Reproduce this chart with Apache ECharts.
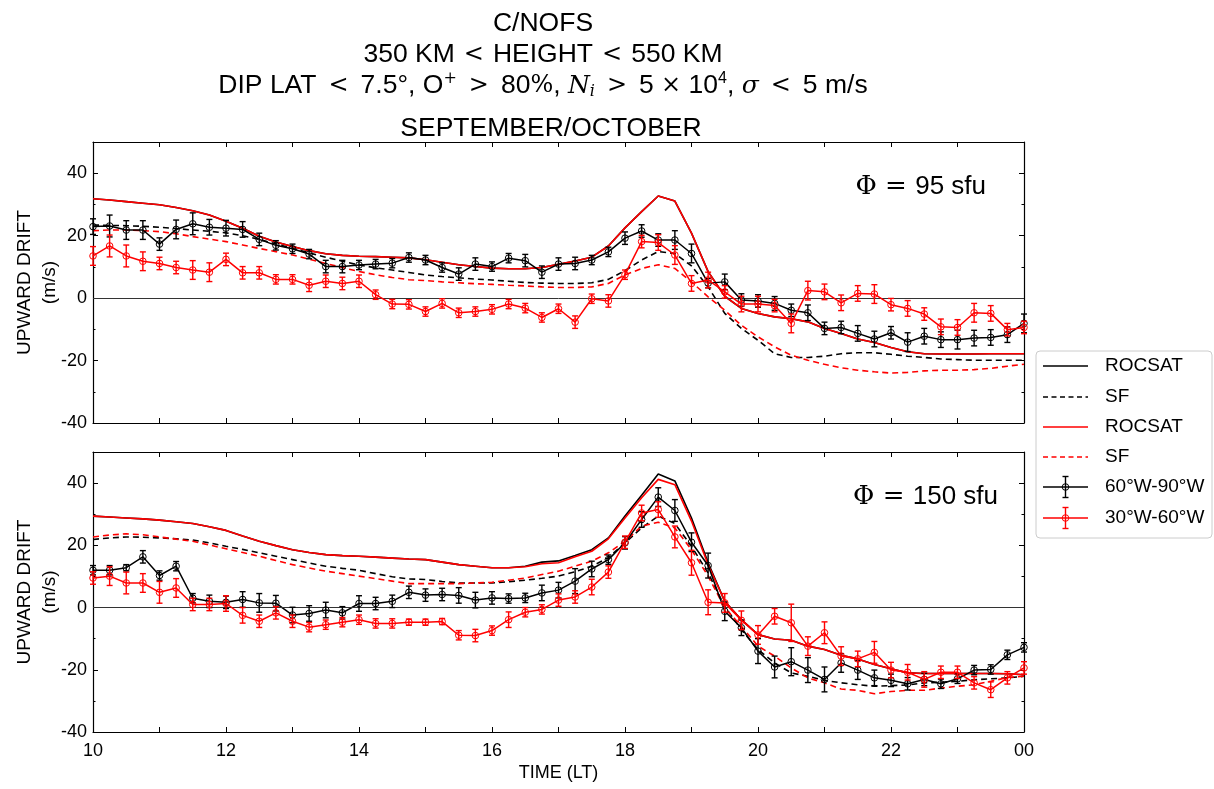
<!DOCTYPE html>
<html>
<head>
<meta charset="utf-8">
<script src="https://cdn.jsdelivr.net/npm/echarts@6/dist/echarts.min.js"></script>
<style>
  html, body { margin: 0; padding: 0; background: #fff; }
  #chart { width: 1214px; height: 789px; }
</style>
</head>
<body>
<div id="chart"></div>
<script>
// Local time of each 15-minute bin (24 = midnight)
const HOURS = [10, 10.25, 10.5, 10.75, 11, 11.25, 11.5, 11.75, 12, 12.25, 12.5, 12.75,
  13, 13.25, 13.5, 13.75, 14, 14.25, 14.5, 14.75, 15, 15.25, 15.5, 15.75,
  16, 16.25, 16.5, 16.75, 17, 17.25, 17.5, 17.75, 18, 18.25, 18.5, 18.75,
  19, 19.25, 19.5, 19.75, 20, 20.25, 20.5, 20.75, 21, 21.25, 21.5, 21.75,
  22, 22.25, 22.5, 22.75, 23, 23.25, 23.5, 23.75, 24];

const X_TICK_LABELS = [10, 12, 14, 16, 18, 20, 22, 24];
const Y_TICKS = [-40, -20, 0, 20, 40];
const Y_MINOR_TICKS = [-30, -10, 10, 30];

// ---- Phi = 95 sfu ----
const LOW_ROCSAT_A = [31.8, 31.4, 30.9, 30.4, 29.9, 29.0, 28.0, 26.6, 24.6, 22.4, 19.8, 18.0,
  16.5, 15.2, 14.2, 13.7, 13.4, 13.3, 13.1, 12.9, 12.3, 11.5, 10.7, 10.1,
  9.6, 9.4, 9.4, 9.8, 10.8, 11.9, 13.1, 16.7, 22.5, 27.7, 32.7, 31.1,
  20.8, 8.5, 0.6, -3.3, -4.9, -6.0, -6.6, -7.6, -9.7, -11.3, -13.1, -14.2,
  -15.8, -17.2, -17.8, -17.9, -17.9, -17.9, -17.8, -17.8, -17.8];
const LOW_ROCSAT_B = [31.8, 31.4, 30.9, 30.4, 29.9, 29.0, 28.0, 26.6, 24.6, 22.4, 19.8, 18.0,
  16.5, 15.2, 14.2, 13.7, 13.4, 13.3, 13.1, 12.9, 12.3, 11.5, 10.7, 10.1,
  9.6, 9.4, 9.4, 9.8, 10.8, 11.9, 13.1, 16.7, 22.5, 27.7, 32.7, 31.1,
  20.8, 8.5, 0.6, -3.3, -4.9, -6.0, -6.6, -7.6, -9.7, -11.3, -13.1, -14.2,
  -15.8, -17.2, -17.8, -17.9, -17.9, -17.9, -17.8, -17.8, -17.8];
const LOW_SF_A = [23.4, 23.3, 23.2, 23.0, 22.7, 22.3, 21.8, 21.4, 20.9, 20.0, 18.8, 17.4,
  15.9, 14.5, 13.1, 11.8, 10.6, 9.7, 9.0, 8.2, 7.4, 6.9, 6.5, 6.1,
  5.8, 5.4, 5.0, 4.8, 4.7, 4.7, 4.9, 6.0, 8.8, 12.2, 14.9, 14.3,
  10.3, 3.6, -4.9, -9.7, -13.5, -17.8, -19.0, -19.0, -18.6, -17.8, -17.5, -17.5,
  -18.0, -18.6, -19.0, -19.5, -19.7, -19.9, -19.9, -19.9, -19.9];
const LOW_SF_B = [21.6, 21.8, 21.8, 21.6, 21.3, 20.6, 19.7, 18.9, 18.1, 17.0, 15.9, 14.9,
  13.8, 12.5, 11.1, 9.8, 8.5, 7.5, 6.6, 5.9, 5.6, 5.2, 4.9, 4.6,
  4.4, 4.1, 3.9, 3.6, 3.4, 3.4, 3.6, 4.7, 7.4, 9.5, 10.7, 9.5,
  5.2, 0.4, -3.9, -8.7, -12.4, -15.6, -18.3, -19.9, -21.2, -22.3, -23.1, -23.6,
  -24.0, -23.8, -23.3, -23.1, -23.1, -22.9, -22.5, -21.8, -21.2];
const LOW_OBS_A = [22.9, 23.1, 21.8, 21.8, 17.3, 22.0, 23.8, 22.7, 22.4, 22.0, 18.8, 16.9,
  15.8, 14.1, 10.1, 10.1, 10.6, 10.9, 11.2, 13.0, 12.2, 9.8, 7.7, 10.9,
  10.1, 12.8, 12.0, 8.3, 10.9, 11.1, 12.2, 14.8, 19.2, 21.5, 18.6, 18.6,
  14.3, 4.8, 5.2, -0.6, -0.9, -1.7, -3.9, -4.7, -9.7, -9.4, -11.3, -13.1,
  -11.1, -14.1, -12.2, -13.3, -13.3, -12.8, -12.6, -11.7, -8.1];
const LOW_ERR_A = [2.5, 3.5, 3, 3, 2, 3, 3.5, 2.5, 2.5, 2.5, 2, 1.5,
  1.5, 1.5, 2, 2, 1.5, 1.5, 1.5, 1.5, 1.5, 1.5, 2, 2,
  1.5, 1.5, 2, 2, 2, 2, 1.5, 1.5, 2, 2, 2, 3,
  3, 1.5, 2.5, 2, 2, 2.2, 2, 2.5, 2, 2, 2.5, 2.5,
  2, 3, 2.5, 2.5, 3, 2.5, 2.5, 2.5, 3];
const LOW_OBS_B = [13.5, 16.7, 13.5, 11.8, 11.1, 9.8, 9.0, 8.3, 12.4, 8.1, 8.1, 6.0,
  6.0, 4.1, 5.4, 4.7, 5.4, 1.1, -1.9, -2.0, -4.3, -1.7, -4.7, -4.3,
  -3.6, -1.9, -3.2, -6.2, -3.4, -7.7, -0.2, -0.9, 7.5, 18.1, 17.8, 13.8,
  4.7, 5.8, 2.0, -1.9, -1.9, -2.4, -8.1, 2.4, 2.0, -1.5, 1.5, 1.3,
  -2.1, -3.3, -5.1, -9.2, -9.4, -4.7, -4.9, -10.1, -9.4];
const LOW_ERR_B = [3, 3.5, 3.5, 3, 2, 2, 3, 3, 2, 2, 2, 1.5,
  1.5, 2, 2, 2, 2, 1.5, 1.5, 1.5, 1.5, 1.5, 1.5, 1.5,
  1.5, 1.5, 1.5, 1.5, 1.5, 2, 1.5, 2, 1.5, 2, 2.5, 3,
  2.5, 2.5, 2, 2.5, 2.5, 2, 3, 3, 2.5, 2.5, 2.5, 3,
  2, 2.5, 2, 2.5, 2.5, 3, 2.5, 2, 2];

// ---- Phi = 150 sfu ----
const HIGH_ROCSAT_A = [29.4, 29.1, 28.8, 28.5, 28.1, 27.6, 27.0, 26.0, 24.8, 23.0, 21.3, 19.9,
  18.6, 17.7, 17.0, 16.7, 16.5, 16.2, 15.9, 15.6, 15.4, 14.6, 13.8, 13.3,
  12.8, 12.8, 13.3, 14.6, 15.0, 16.7, 18.6, 22.4, 29.4, 36.1, 42.9, 40.7,
  28.8, 14.4, 2.0, -3.9, -8.7, -10.1, -10.5, -12.4, -13.5, -15.3, -16.5, -18.3,
  -19.7, -21.0, -21.2, -21.2, -21.2, -21.2, -21.2, -21.3, -21.6];
const HIGH_ROCSAT_B = [29.4, 29.1, 28.8, 28.5, 28.1, 27.6, 27.0, 26.0, 24.8, 23.0, 21.3, 19.9,
  18.6, 17.7, 17.0, 16.7, 16.5, 16.2, 15.9, 15.6, 15.4, 14.6, 13.8, 13.3,
  12.8, 12.8, 13.1, 14.1, 14.4, 16.3, 18.1, 22.1, 28.8, 35.3, 41.2, 39.5,
  27.8, 13.8, 2.0, -3.9, -8.7, -10.1, -10.5, -12.4, -13.5, -15.3, -16.5, -18.3,
  -19.7, -21.0, -21.2, -21.2, -21.2, -21.2, -21.2, -21.3, -21.6];
const HIGH_SF_A = [21.9, 22.4, 22.7, 22.6, 22.4, 22.1, 21.7, 20.8, 19.7, 18.7, 17.6, 16.5,
  15.4, 14.3, 13.3, 12.6, 12.0, 10.9, 9.9, 9.2, 9.0, 8.4, 7.9, 7.9,
  7.9, 8.3, 8.8, 9.4, 10.1, 11.5, 13.3, 16.0, 20.8, 25.6, 29.4, 27.0,
  19.7, 11.1, 0.4, -7.1, -13.5, -17.8, -21.0, -22.1, -23.4, -24.2, -24.8, -25.3,
  -25.1, -24.9, -24.2, -24.0, -23.7, -23.2, -22.9, -22.6, -22.1];
const HIGH_SF_B = [22.7, 23.3, 23.7, 23.4, 22.7, 22.0, 21.3, 20.1, 18.9, 17.7, 16.5, 15.1,
  13.8, 12.7, 11.7, 10.9, 10.1, 9.3, 8.5, 7.7, 7.7, 7.7, 7.7, 7.9,
  8.1, 8.8, 9.5, 10.6, 11.7, 13.3, 14.9, 17.6, 21.3, 26.2, 27.4, 25.6,
  18.6, 10.1, -0.1, -6.0, -12.4, -15.6, -19.4, -22.6, -24.2, -26.2, -26.6, -27.7,
  -27.0, -26.6, -26.6, -25.9, -25.3, -24.8, -23.7, -22.5, -22.1];
const HIGH_OBS_A = [12.0, 12.0, 12.8, 16.3, 10.3, 13.3, 3.0, 2.0, 1.7, 2.6, 1.5, 1.4,
  -2.4, -1.9, -0.8, -1.7, 1.3, 1.3, 2.0, 4.9, 4.0, 4.2, 3.9, 2.4,
  3.1, 2.9, 3.1, 4.7, 5.6, 8.5, 12.4, 15.4, 20.8, 28.3, 35.5, 31.2,
  21.0, 13.5, -1.2, -6.5, -14.0, -19.1, -17.4, -20.1, -23.1, -17.8, -20.1, -22.6,
  -23.4, -24.5, -23.1, -24.5, -22.9, -20.1, -19.9, -15.2, -12.8];
const HIGH_ERR_A = [1.5, 1.5, 1, 2, 1.5, 1.5, 1.5, 2, 2, 2.5, 3, 2.5,
  2.5, 2.5, 2.5, 2, 2.5, 2, 2, 2, 2, 2, 2.5, 2.5,
  2, 1.5, 1.5, 2.5, 2.5, 4, 2.5, 1.5, 2, 2.5, 3, 3.5,
  3, 4, 3, 2.5, 4, 3.5, 4.5, 4, 4, 3, 3, 2.5,
  2, 2, 2, 1.5, 1.5, 1.5, 1.5, 1.5, 1.5];
const HIGH_OBS_B = [9.5, 10.1, 7.9, 7.9, 4.9, 6.3, 1.0, 1.0, 1.3, -2.5, -4.4, -1.7,
  -4.4, -6.3, -5.5, -4.7, -3.9, -5.1, -5.1, -4.7, -4.7, -4.5, -8.9, -9.0,
  -7.4, -3.9, -1.5, -0.6, 2.4, 3.4, 6.6, 11.4, 21.0, 30.4, 31.5, 22.7,
  14.4, 1.7, 1.5, -4.1, -8.8, -2.8, -4.9, -12.4, -8.1, -15.6, -16.5, -14.4,
  -20.1, -20.8, -23.1, -20.8, -20.8, -24.2, -26.4, -22.6, -19.4];
const HIGH_ERR_B = [2, 3, 3.5, 3, 3.5, 3, 2, 2, 2.5, 2.5, 2, 2,
  2, 1.5, 1.5, 1.5, 1.5, 1.5, 1.5, 1, 1, 1, 1.5, 2,
  1.5, 2.5, 1.5, 1.5, 2, 2, 2.5, 2, 2, 2.5, 2.5, 3.5,
  4, 4, 3, 3, 3, 2.5, 6, 3, 3.5, 3, 2.5, 3.5,
  2.5, 2.5, 2.5, 2, 2, 2, 2.5, 2, 2];

const BLACK = '#000000';
const RED = '#ff0000';
const SANS = 'Liberation Sans, Arial, sans-serif';
const SERIF = 'DejaVu Serif, Liberation Serif, serif';

const GRID_LEFT = 93, GRID_RIGHT = 190;
const panels = [
  { top: 142, height: 281, flux: '95', rocA: LOW_ROCSAT_A, rocB: LOW_ROCSAT_B, sfA: LOW_SF_A, sfB: LOW_SF_B,
    obsA: LOW_OBS_A, errA: LOW_ERR_A, obsB: LOW_OBS_B, errB: LOW_ERR_B },
  { top: 452, height: 280, flux: '150', rocA: HIGH_ROCSAT_A, rocB: HIGH_ROCSAT_B, sfA: HIGH_SF_A, sfB: HIGH_SF_B,
    obsA: HIGH_OBS_A, errA: HIGH_ERR_A, obsB: HIGH_OBS_B, errB: HIGH_ERR_B }
];

const pairs = vals => HOURS.map((h, i) => [h, vals[i]]);
const triples = (vals, errs) => HOURS.map((h, i) => [h, vals[i], errs[i]]);

// Error bar with caps and an open circle marker
function errorBarRenderer(color) {
  return function (params, api) {
    const x = api.value(0), y = api.value(1), e = api.value(2);
    const c = api.coord([x, y]);
    const hi = api.coord([x, y + e]);
    const lo = api.coord([x, y - e]);
    const cap = 3;
    const st = { stroke: color, lineWidth: 1.4, fill: null };
    return {
      type: 'group',
      children: [
        { type: 'line', shape: { x1: hi[0], y1: hi[1], x2: lo[0], y2: lo[1] }, style: st },
        { type: 'line', shape: { x1: hi[0] - cap, y1: hi[1], x2: hi[0] + cap, y2: hi[1] }, style: st },
        { type: 'line', shape: { x1: lo[0] - cap, y1: lo[1], x2: lo[0] + cap, y2: lo[1] }, style: st },
        { type: 'circle', shape: { cx: c[0], cy: c[1], r: 3.3 }, style: { stroke: color, lineWidth: 1, fill: null } }
      ]
    };
  };
}

const grids = [], xAxes = [], yAxes = [], series = [];

panels.forEach((p, gi) => {
  const isBottom = gi === 1;
  grids.push({ left: GRID_LEFT, right: GRID_RIGHT, top: p.top, height: p.height });

  const xBase = {
    gridIndex: gi, type: 'value', min: 10, max: 24, interval: 1,
    axisLine: { show: true, onZero: false, lineStyle: { color: BLACK, width: 1.2 } },
    axisTick: { show: true, inside: true, length: 5, lineStyle: { color: BLACK, width: 1 } },
    splitLine: { show: false }
  };
  xAxes.push(Object.assign({}, xBase, {
    position: 'bottom',
    axisLabel: isBottom ? {
      show: true, margin: 10, fontSize: 18, fontFamily: SANS, color: BLACK,
      customValues: X_TICK_LABELS,
      formatter: v => (v === 24 ? '00' : String(v))
    } : { show: false },
    name: isBottom ? 'TIME (LT)' : '',
    nameLocation: 'middle', nameGap: 32,
    nameTextStyle: { fontSize: 18, fontFamily: SANS, color: BLACK }
  }));
  xAxes.push(Object.assign({}, xBase, { position: 'top', axisLabel: { show: false } }));

  const yBase = {
    gridIndex: gi, type: 'value', min: -40, max: 50, interval: 20,
    splitLine: { show: false }
  };
  // left: main ticks + labels
  yAxes.push(Object.assign({}, yBase, {
    position: 'left',
    axisLine: { show: true, onZero: false, lineStyle: { color: BLACK, width: 1.2 } },
    axisTick: { show: true, inside: true, length: 5, customValues: Y_TICKS, lineStyle: { color: BLACK, width: 1 } },
    axisLabel: { show: true, margin: 6, fontSize: 18, fontFamily: SANS, color: BLACK, customValues: Y_TICKS },
    name: 'UPWARD DRIFT\n(m/s)', nameLocation: 'middle', nameRotate: 90, nameGap: 31,
    nameMoveOverlap: false,
    nameTextStyle: { fontSize: 19, fontFamily: SANS, color: BLACK, lineHeight: 25 }
  }));
  // left: minor ticks
  yAxes.push(Object.assign({}, yBase, {
    position: 'left',
    axisLine: { show: false },
    axisTick: { show: true, inside: true, length: 2.5, customValues: Y_MINOR_TICKS, lineStyle: { color: BLACK, width: 1 } },
    axisLabel: { show: false }
  }));
  // right: mirrored ticks
  yAxes.push(Object.assign({}, yBase, {
    position: 'right',
    axisLine: { show: true, onZero: false, lineStyle: { color: BLACK, width: 1.2 } },
    axisTick: { show: true, inside: true, length: 5, customValues: Y_TICKS, lineStyle: { color: BLACK, width: 1 } },
    axisLabel: { show: false }
  }));
  yAxes.push(Object.assign({}, yBase, {
    position: 'right',
    axisLine: { show: false },
    axisTick: { show: true, inside: true, length: 2.5, customValues: Y_MINOR_TICKS, lineStyle: { color: BLACK, width: 1 } },
    axisLabel: { show: false }
  }));

  const xi = gi * 2, yi = gi * 4;
  const modelLine = (name, data, color, dashed, z) => ({
    name, type: 'line', xAxisIndex: xi, yAxisIndex: yi, data: pairs(data),
    symbol: 'none', smooth: false, z,
    lineStyle: { color, width: 1.6, type: dashed ? [6, 4] : 'solid' },
    emphasis: { disabled: true }
  });

  const rocA = modelLine('ROCSAT', p.rocA, BLACK, false, 2);
  rocA.markLine = {
    silent: true, symbol: ['none', 'none'], label: { show: false },
    lineStyle: { color: '#333', width: 1, type: 'solid' },
    data: [{ yAxis: 0 }]
  };
  series.push(rocA);
  series.push(modelLine('SF', p.sfA, BLACK, true, 2));
  series.push(modelLine('ROCSAT', p.rocB, RED, false, 3));
  series.push(modelLine('SF', p.sfB, RED, true, 3));

  [[p.obsA, p.errA, BLACK, '60°W-90°W', 4], [p.obsB, p.errB, RED, '30°W-60°W', 6]].forEach(([v, e, color, name, z]) => {
    series.push({
      name, type: 'line', xAxisIndex: xi, yAxisIndex: yi, data: pairs(v),
      symbol: 'none', z, lineStyle: { color, width: 1.5 }, emphasis: { disabled: true }
    });
    series.push({
      name, type: 'custom', xAxisIndex: xi, yAxisIndex: yi, data: triples(v, e),
      renderItem: errorBarRenderer(color), z: z + 1, silent: true
    });
  });
});

// Title block, flux labels and legend
const mathRich = {
  a: { fontFamily: SANS, fontSize: 26.5, color: BLACK, lineHeight: 34 },
  m: { fontFamily: SERIF, fontSize: 24, color: BLACK, lineHeight: 34 },
  r2: { fontFamily: SERIF, fontSize: 24, color: BLACK, lineHeight: 34, padding: [0, 9, 0, 9] },
  r3: { fontFamily: SERIF, fontSize: 24, color: BLACK, lineHeight: 34, padding: [0, 12, 0, 12] },
  mi: { fontFamily: SERIF, fontStyle: 'italic', fontSize: 25, color: BLACK, lineHeight: 34 },
  sup: { fontFamily: SANS, fontSize: 16, color: BLACK, verticalAlign: 'top', lineHeight: 34, padding: [2, 0, 0, 0] },
  supm: { fontFamily: SERIF, fontSize: 16, color: BLACK, verticalAlign: 'top', lineHeight: 34, padding: [2, 0, 0, 0] },
  sub: { fontFamily: SERIF, fontStyle: 'italic', fontSize: 16, color: BLACK, verticalAlign: 'bottom', lineHeight: 34, padding: [0, 0, 3, 0] }
};

const titleRows = [
  { y: 24, x: 543, text: '{a|C/NOFS}' },
  { y: 55, x: 543, text: '{a|350 KM}{r2|<}{a|HEIGHT}{r2|<}{a|550 KM}' },
  { y: 86, x: 543, text: '{a|DIP LAT}{r3|<}{a|7.5°, O}{supm|+}{r3|>}{a|80}{m|%}{a|, }{mi|N}{sub|i}{r3|>}{a|5 }{m|×}{a| 10}{sup|4}{a|, }{mi|σ}{r3|<}{a|5 m/s}' },
  { y: 129, x: 551, text: '{a|SEPTEMBER/OCTOBER}' }
];

const graphics = titleRows.map(r => ({
  type: 'text', x: r.x, y: r.y, silent: true,
  style: { text: r.text, align: 'center', verticalAlign: 'middle', rich: mathRich }
}));

const fluxRich = {
  s: { fontFamily: SERIF, fontSize: 26, color: BLACK },
  t: { fontFamily: SANS, fontSize: 26, color: BLACK }
};
[{ y: 187, v: '95', x: 986 }, { y: 497, v: '150', x: 998 }].forEach(f => {
  graphics.push({
    type: 'text', x: f.x, y: f.y, silent: true,
    style: { text: '{s|Φ = }{t|' + f.v + ' sfu}', align: 'right', verticalAlign: 'middle', rich: fluxRich }
  });
});

// Legend
const LG = { x: 1036, y: 351, w: 176, h: 187, x1: 1043, x2: 1088, tx: 1105 };
const legendRows = [
  { y: 366, color: BLACK, kind: 'solid', label: 'ROCSAT' },
  { y: 397, color: BLACK, kind: 'dash', label: 'SF' },
  { y: 427, color: RED, kind: 'solid', label: 'ROCSAT' },
  { y: 457, color: RED, kind: 'dash', label: 'SF' },
  { y: 487, color: BLACK, kind: 'err', label: '60°W-90°W' },
  { y: 518, color: RED, kind: 'err', label: '30°W-60°W' }
];
graphics.push({
  type: 'rect', silent: true, shape: { x: LG.x, y: LG.y, width: LG.w, height: LG.h, r: 4 },
  style: { fill: '#fff', stroke: '#cccccc', lineWidth: 1 }, z: 10
});
legendRows.forEach(r => {
  const st = { stroke: r.color, lineWidth: 1.6, lineDash: r.kind === 'dash' ? [5, 3.5] : null };
  graphics.push({ type: 'line', silent: true, z: 11, shape: { x1: LG.x1, y1: r.y, x2: LG.x2, y2: r.y }, style: st });
  if (r.kind === 'err') {
    const cx = (LG.x1 + LG.x2) / 2;
    const bs = { stroke: r.color, lineWidth: 1.4 };
    graphics.push({ type: 'line', silent: true, z: 11, shape: { x1: cx, y1: r.y - 10.5, x2: cx, y2: r.y + 10.5 }, style: bs });
    graphics.push({ type: 'line', silent: true, z: 11, shape: { x1: cx - 3, y1: r.y - 10.5, x2: cx + 3, y2: r.y - 10.5 }, style: bs });
    graphics.push({ type: 'line', silent: true, z: 11, shape: { x1: cx - 3, y1: r.y + 10.5, x2: cx + 3, y2: r.y + 10.5 }, style: bs });
    graphics.push({ type: 'circle', silent: true, z: 11, shape: { cx: cx, cy: r.y, r: 3.3 }, style: { stroke: r.color, lineWidth: 1, fill: null } });
  }
  graphics.push({
    type: 'text', silent: true, z: 11, x: LG.tx, y: r.y,
    style: { text: r.label, fontFamily: SANS, fontSize: 19, fill: BLACK, verticalAlign: 'middle', align: 'left' }
  });
});

const chart = echarts.init(document.getElementById('chart'), null, { renderer: 'canvas' });
chart.setOption({
  backgroundColor: '#ffffff',
  animation: false,
  grid: grids,
  xAxis: xAxes,
  yAxis: yAxes,
  series: series,
  graphic: graphics
});
</script>
</body>
</html>
